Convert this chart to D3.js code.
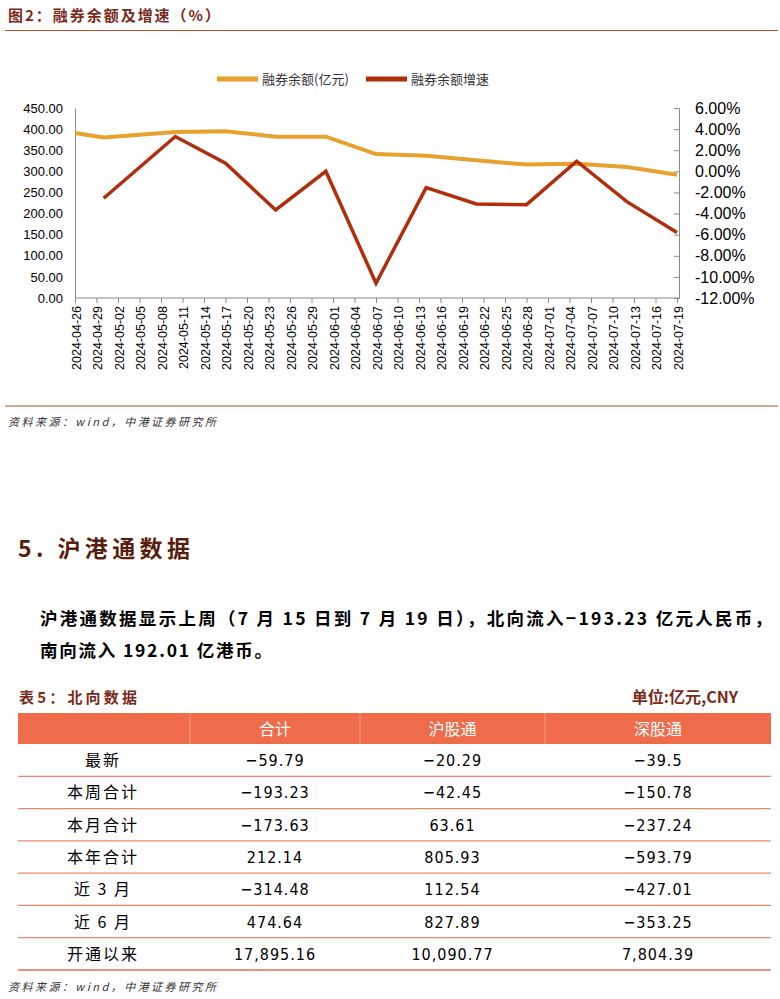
<!DOCTYPE html>
<html><head><meta charset="utf-8">
<script src="https://cdn.jsdelivr.net/npm/d3@7"></script>
<style>body{margin:0;background:#fff}svg{display:block}</style>
</head><body>
<svg id="c" width="780" height="999"></svg>
<script>
const balanceDates=["2024-04-26","2024-04-30","2024-05-10","2024-05-17","2024-05-24","2024-05-31","2024-06-07","2024-06-14","2024-06-21","2024-06-28","2024-07-05","2024-07-12","2024-07-19"];
const balance=[390.6,380,393,395,382,382,341,337,326,316,318,310,292];
const growthDates=balanceDates.slice(1);
const growth=[-2.55,3.3,0.77,-3.66,0,-10.6,-1.54,-3.09,-3.16,0.96,-2.87,-5.79];
const leftTicks=[0,50,100,150,200,250,300,350,400,450];
const rightTicks=[6,4,2,0,-2,-4,-6,-8,-10,-12];
const seriesNames=["融券余额(亿元","融券余额增速"];
const tableCols=["合计","沪股通","深股通"];
const rowNames=["最新","本周合计","本月合计","本年合计","近 3 月","近 6 月","开通以来"];
const colTotal=["−59.79","−193.23","−173.63","212.14","−314.48","474.64","17,895.16"];
const colSH=["−20.29","−42.45","63.61","805.93","112.54","827.89","10,090.77"];
const colSZ=["−39.5","−150.78","−237.24","−593.79","−427.01","−353.25","7,804.39"];

const svg=d3.select("#c");
const F="'Noto Sans CJK SC','Noto Sans',sans-serif";
const dark="#7a2a1a";
const parse=d3.timeParse("%Y-%m-%d");
svg.append("text").attr("x",8).attr("y",21).attr("font-family",F).attr("font-size",15).attr("font-weight","bold").attr("fill",dark).attr("textLength",212).text("图2：融券余额及增速（%）");
svg.append("line").attr("x1",5).attr("x2",778).attr("y1",30.5).attr("y2",30.5).attr("stroke","#c0502c").attr("stroke-width",1.2);
const x=d3.scaleTime().domain([parse("2024-04-26"),parse("2024-07-19")]).range([75,677]);
const yL=d3.scaleLinear().domain([0,450]).range([298,108]);
const yR=d3.scaleLinear().domain([-12,6]).range([298,108]);
const xs=d3.timeDay.range(parse("2024-04-26"),parse("2024-07-20"),3);
const gx=svg.append("g").attr("transform","translate(0,298)").call(d3.axisBottom(x).tickValues(xs).tickSize(5).tickFormat(d3.timeFormat("%Y-%m-%d")));
gx.selectAll("text").attr("transform","rotate(-90)").attr("text-anchor","end").attr("x",-8).attr("y",0).attr("dx",0).attr("dy","0.4em").attr("font-family","'Liberation Sans',Arial,sans-serif").attr("font-size",12.5).attr("fill","#000");
gx.selectAll("line,path").attr("stroke","#888");
gx.select("path").attr("d","M75,0H679");
const gl=svg.append("g").attr("transform","translate(75,0)").call(d3.axisLeft(yL).tickValues(leftTicks).tickSize(0).tickPadding(12).tickFormat(d3.format(".2f")));
gl.selectAll("text").attr("font-family","'Liberation Sans',Arial,sans-serif").attr("font-size",13).attr("fill","#000");
gl.select("path").attr("stroke","#888");
const gr=svg.append("g").attr("transform","translate(679,0)").call(d3.axisRight(yR).tickValues(rightTicks).tickSize(-5).tickPadding(16).tickFormat(d=>d.toFixed(2)+"%"));
gr.selectAll("text").attr("font-family","'Liberation Sans',Arial,sans-serif").attr("font-size",16).attr("fill","#000");
gr.selectAll("line,path").attr("stroke","#888");
const ln=(ys)=>d3.line().x(d=>x(parse(d[0]))).y(d=>ys(d[1]));
svg.append("path").datum(balanceDates.map((d,i)=>[d,balance[i]])).attr("d",ln(yL)).attr("fill","none").attr("stroke","#E8A02E").attr("stroke-width",4);
svg.append("path").datum(growthDates.map((d,i)=>[d,growth[i]])).attr("d",ln(yR)).attr("fill","none").attr("stroke","#B02E0C").attr("stroke-width",3.5);
const lg=[[217,"#E8A02E",seriesNames[0]+")"],[366,"#B02E0C",seriesNames[1]]];
lg.forEach(([lx,c,t])=>{svg.append("line").attr("x1",lx).attr("x2",lx+41).attr("y1",79).attr("y2",79).attr("stroke",c).attr("stroke-width",5);
svg.append("text").attr("x",lx+45).attr("y",84).attr("font-family",F).attr("font-size",13).attr("fill","#333").text(t);});
svg.append("line").attr("x1",5).attr("x2",778).attr("y1",406).attr("y2",406).attr("stroke","#d08870").attr("stroke-width",1.5);
const src=(yy)=>svg.append("text").attr("x",8).attr("y",yy).attr("font-family",F).attr("font-size",11).attr("font-style","italic").attr("fill","#333").attr("textLength",208).text("资料来源：wind，中港证券研究所");
src(426);
svg.append("text").attr("x",18).attr("y",557).attr("font-family",F).attr("font-size",23).attr("font-weight","bold").attr("fill","#5a1e0e").attr("textLength",172).text("5. 沪港通数据");
svg.append("text").attr("x",40).attr("y",625).attr("font-family",F).attr("font-size",17.5).attr("font-weight","bold").attr("fill","#000").attr("textLength",732).text("沪港通数据显示上周（7 月 15 日到 7 月 19 日），北向流入−193.23 亿元人民币，");
svg.append("text").attr("x",40).attr("y",657).attr("font-family",F).attr("font-size",17.5).attr("font-weight","bold").attr("fill","#000").attr("textLength",232).text("南向流入 192.01 亿港币。");
svg.append("text").attr("x",19).attr("y",703).attr("font-family",F).attr("font-size",15).attr("font-weight","bold").attr("fill",dark).attr("textLength",118).text("表5：北向数据");
svg.append("text").attr("x",738).attr("y",703).attr("text-anchor","end").attr("font-family",F).attr("font-size",16).attr("font-weight","bold").attr("fill",dark).text("单位:亿元,CNY");
const colX=[18,190,360,545,771];
const rowY=d3.scaleBand().domain(rowNames).range([744,970]);
svg.append("rect").attr("x",18).attr("y",713).attr("width",753).attr("height",31).attr("fill","#EE6C4A");
[190,360,545].forEach(cx=>svg.append("line").attr("x1",cx).attr("x2",cx).attr("y1",713).attr("y2",744).attr("stroke","#f5a890").attr("stroke-width",0.8));
tableCols.forEach((c,i)=>svg.append("text").attr("x",(colX[i+1]+colX[i+2])/2).attr("y",735).attr("text-anchor","middle").attr("font-family",F).attr("font-size",16).attr("fill","#fff").text(c));
const cols=[colTotal,colSH,colSZ];
rowNames.forEach((r,j)=>{
  const yy=rowY(r)+rowY.bandwidth()/2+6;
  svg.append("text").attr("x",103).attr("y",yy).attr("text-anchor","middle").attr("font-family",F).attr("font-size",16).attr("letter-spacing","2px").attr("fill","#000").text(r);
  cols.forEach((col,i)=>svg.append("text").attr("x",(colX[i+1]+colX[i+2])/2).attr("y",yy).attr("text-anchor","middle").attr("font-family","'DejaVu Sans Condensed','Noto Sans',sans-serif").attr("font-size",16).attr("letter-spacing","1px").attr("fill","#000").text(col[j]));
  svg.append("line").attr("x1",18).attr("x2",771).attr("y1",rowY(r)+rowY.bandwidth()).attr("y2",rowY(r)+rowY.bandwidth()).attr("stroke",j==rowNames.length-1?"#e0704e":"#eb8a6c").attr("stroke-width",j==rowNames.length-1?1.5:1.2);
});
src(991);
</script>
</body></html>
